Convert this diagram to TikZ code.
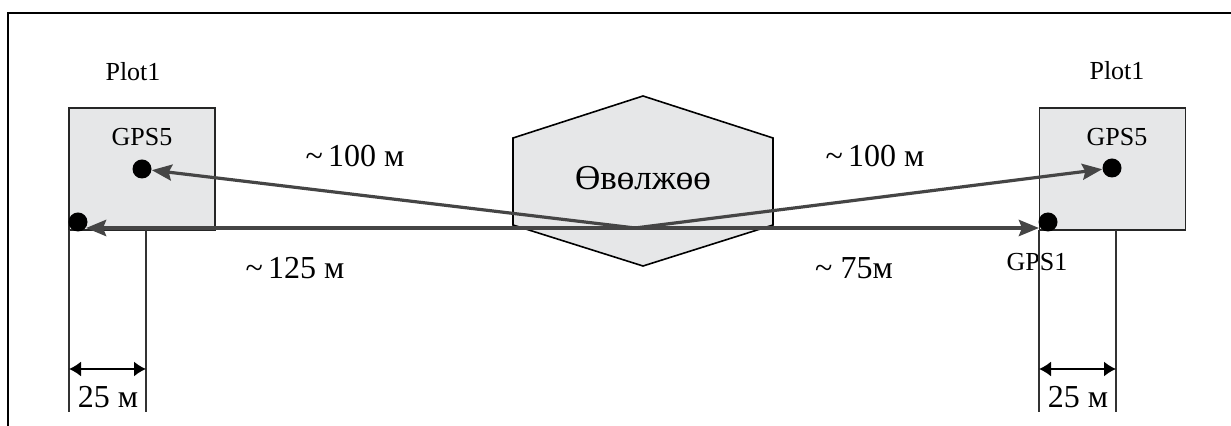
\documentclass[tikz,border=0pt]{standalone}
\usepackage{fontspec}
\setmainfont{Liberation Serif}
\usetikzlibrary{arrows.meta,calc}
\definecolor{boxgray}{HTML}{E6E7E8}
\definecolor{arrgray}{HTML}{454545}
\tikzset{
  plotbox/.style={draw=black!85,line width=0.8pt,fill=boxgray,minimum width=73pt,minimum height=61pt,inner sep=0pt},
  gpsdot/.style={circle,fill=black,minimum size=9.5pt,inner sep=0pt},
  bigarrow/.style={draw=arrgray,line width=1.6pt,-{Stealth[length=10pt,width=8pt,inset=1.5pt]}},
  dimline/.style={draw=black!80,line width=0.7pt},
  dimarrow/.style={draw=black,line width=0.8pt,{Latex[length=6pt,width=7.5pt]}-{Latex[length=6pt,width=7.5pt]}},
  lbl/.style={font=\fontsize{13}{15}\selectfont,inner sep=0pt},
  dist/.style={font=\fontsize{16}{19}\selectfont,inner sep=0pt},
}
\begin{document}
\begin{tikzpicture}[x=0.5pt,y=-0.5pt]
\useasboundingbox (0,0) rectangle (1231,426);
% frame
\draw[line width=0.8pt] (1231,13) -- (8,13) -- (8,426);
% plot squares
\node[plotbox] (sqL) at (142,169) {};
\node[plotbox] (sqR) at (1112.5,169) {};
\node[lbl] (plotL) at (133,72) {Plot1};
\node[lbl] (plotR) at (1117,71) {Plot1};
\node[lbl] (g5Ltxt) at (142,137) {GPS5};
\node[lbl] (g5Rtxt) at (1117,137) {GPS5};
\node[lbl] (g1Rtxt) at (1037,262) {GPS1};
% hexagon
\coordinate (h1) at (643,96);
\coordinate (h2) at (773,138);
\coordinate (h3) at (773,225);
\coordinate (h4) at (643,266);
\coordinate (h5) at (513,225);
\coordinate (h6) at (513,138);
\draw[line width=0.8pt,fill=boxgray] (h1) -- (h2) -- (h3) -- (h4) -- (h5) -- (h6) -- cycle;
\node[font=\fontsize{17.5}{20}\selectfont,inner sep=0pt] (hex) at (643,178) {Өвөлжөө};
% dots
\node[gpsdot] (g5L) at (142,169) {};
\node[gpsdot] (g1L) at (78,222) {};
\node[gpsdot] (g5R) at (1112,168) {};
\node[gpsdot] (g1R) at (1048,222) {};
% arrows
\coordinate (c) at (635,228);
\coordinate (endL) at (86,228);
\coordinate (endR) at (1039,228);
\draw[bigarrow,line width=2pt] (c) -- (endL);
\draw[bigarrow,line width=2pt] (c) -- (endR);
\draw[bigarrow] (c) -- (g5L);
\draw[bigarrow] (c) -- (g5R);
% distance labels
\node[dist] (d1) at (355,156) {\char"7E\,100 м};
\node[dist] (d2) at (875,156) {\char"7E\,100 м};
\node[dist] (d3) at (295,268) {\char"7E\,125 м};
\node[dist] (d4) at (854,268) {\char"7E\ 75м};
% dimension lines
\coordinate (vL1t) at (69,230);
\coordinate (vL1b) at (69,412);
\coordinate (vL2t) at (146,230);
\coordinate (vL2b) at (146,412);
\coordinate (vR1t) at (1039,230);
\coordinate (vR1b) at (1039,412);
\coordinate (vR2t) at (1116,230);
\coordinate (vR2b) at (1116,412);
\draw[dimline] (vL1t) -- (vL1b);
\draw[dimline] (vL2t) -- (vL2b);
\draw[dimline] (vR1t) -- (vR1b);
\draw[dimline] (vR2t) -- (vR2b);
\coordinate (aL1) at (69,369);
\coordinate (aL2) at (146,369);
\coordinate (aR1) at (1039,369);
\coordinate (aR2) at (1116,369);
\draw[dimarrow] (aL1) -- (aL2);
\draw[dimarrow] (aR1) -- (aR2);
\node[dist] (w1) at (108,397) {25 м};
\node[dist] (w2) at (1078,397) {25 м};
\end{tikzpicture}
\end{document}
